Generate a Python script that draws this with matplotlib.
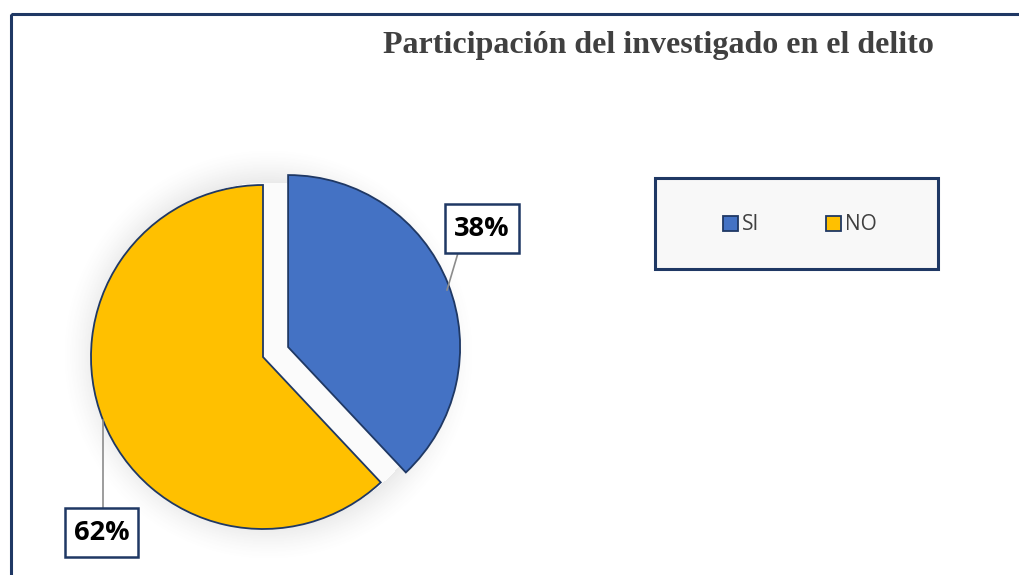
import numpy as np
import matplotlib
matplotlib.use("Agg")
import matplotlib.pyplot as plt
from matplotlib.patches import Rectangle, Patch

# Data
categories = ["SI", "NO"]
values = [38, 62]
labels_pct = ["38%", "62%"]
title = "Participación del investigado en el delito"

colors = ["#4472C4", "#FFC000"]
edge = "#1F3864"
W, H = 1019, 575

fig = plt.figure(figsize=(W / 100, H / 100), dpi=100)
ax = fig.add_axes([0, 0, 1, 1])
ax.set_xlim(0, W)
ax.set_ylim(0, H)
ax.set_aspect("equal")
ax.axis("off")

def py(y):  # pixel-from-top to data
    return H - y

# outer frame (clipped by figure edges)
ax.add_patch(Rectangle((11, py(14)), W, -H, fill=False, ec="#1F3864", lw=2.2, zorder=1))

# soft shadow glow around pie
cx, cy, r = 263, 357, 172
yy, xx = np.mgrid[0:H, 0:W]
d = np.sqrt((xx - 268) ** 2 + (yy - 354) ** 2)
glow = np.clip(1 - (d - 168) / 40, 0, 1) ** 1.6 * 0.15
glow[d < 172] = 0.02
img = np.zeros((H, W, 4))
img[..., :3] = 0.35
img[..., 3] = glow
ax.imshow(img, extent=(0, W, 0, H), origin="upper", zorder=2)

# pie
wedges, _ = ax.pie(values, colors=colors, startangle=90, counterclock=False,
                   center=(cx, py(cy)), radius=r, explode=[27, 0],
                   wedgeprops=dict(edgecolor=edge, linewidth=1.3),
                   frame=True)
for w in wedges:
    w.set_zorder(3)
ax.set_xlim(0, W)
ax.set_ylim(0, H)
ax.axis("off")

# leader lines
ax.plot([458, 447], [py(253), py(290)], color="#8C8C8C", lw=1.2, zorder=4)
ax.plot([103, 103], [py(420), py(508)], color="#8C8C8C", lw=1.2, zorder=4)

# label boxes
boxes = [(445, 204, 74, 49), (65, 508, 73, 49)]
for (x0, y0, bw, bh), t in zip(boxes, labels_pct):
    ax.add_patch(Rectangle((x0, py(y0 + bh)), bw, bh, fc="white", ec=edge, lw=1.8, zorder=5))
    ax.text(x0 + bw / 2, py(y0 + bh / 2), t, ha="center", va="center",
            fontsize=19.5, fontweight="bold", family="Open Sans", color="black", zorder=6)

# title
ax.text(658, py(45), title, ha="center", va="center", fontsize=23, fontweight="bold",
        family="Liberation Serif", color="#404040", zorder=6)

# legend frame
ax.add_patch(Rectangle((655, py(269)), 283, 91, fc="#F8F8F8", ec=edge, lw=2.2, zorder=5))
handles = [Patch(facecolor=c, edgecolor=edge, linewidth=1.3) for c in colors]
leg = ax.legend(handles, categories, loc="center", bbox_to_anchor=(800 / W, 1 - 225 / H),
                bbox_transform=fig.transFigure, ncol=2, frameon=False,
                handlelength=0.72, handleheight=0.72, handletextpad=0.2, columnspacing=3.2,
                prop=dict(family="Open Sans", size=15))
leg.set_zorder(7)
for t in leg.get_texts():
    t.set_color("#404040")

fig.savefig("out.png", dpi=100)
